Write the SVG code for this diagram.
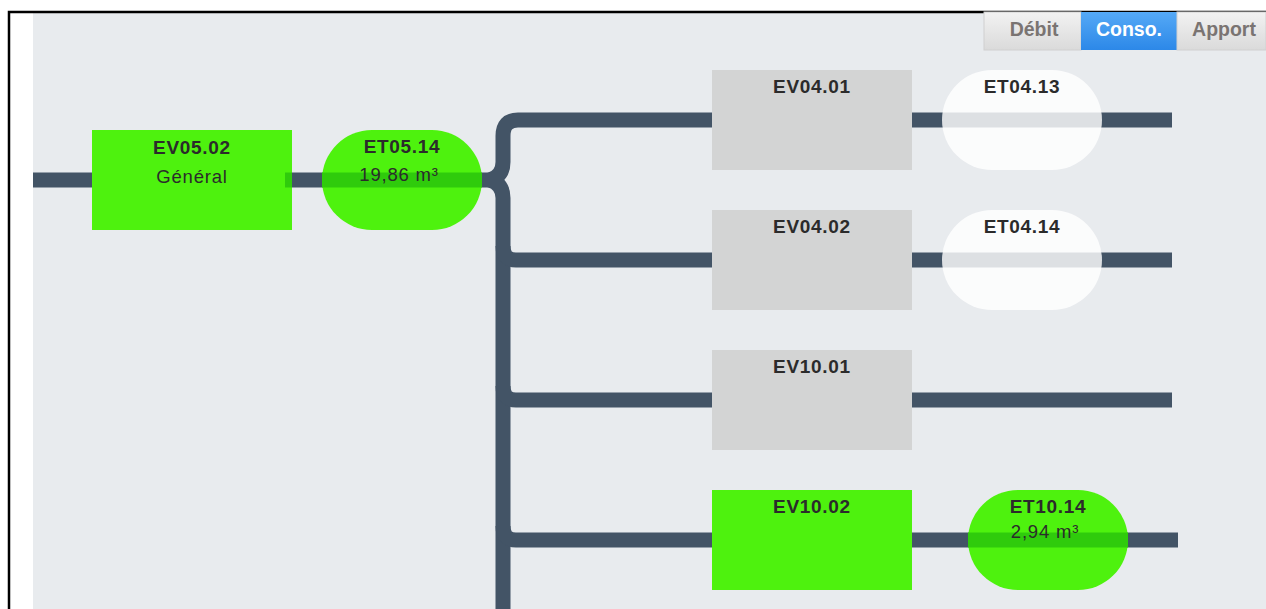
<svg xmlns="http://www.w3.org/2000/svg" width="1266" height="609" viewBox="0 0 1266 609">
  <defs>
    <linearGradient id="tabGray" x1="0" y1="0" x2="0" y2="1">
      <stop offset="0" stop-color="#F2F2F2"/>
      <stop offset="1" stop-color="#DADADA"/>
    </linearGradient>
    <linearGradient id="tabBlue" x1="0" y1="0" x2="0" y2="1">
      <stop offset="0" stop-color="#55A9F6"/>
      <stop offset="1" stop-color="#2C88E8"/>
    </linearGradient>
  </defs>
  <style>
    .pipe { fill: none; stroke: #435466; stroke-width: 15; stroke-linejoin: round; }
    .green { fill: #4EF20E; }
    .gray { fill: #D3D4D4; }
    .capsule-green { fill: #4EF20E; }
    .capsule-white { fill: #FFFFFF; fill-opacity: 0.82; }
    .under-green { fill: #2FCB0C; }
    .title { font-family: "Liberation Sans", Arial, sans-serif; font-size: 19px; font-weight: bold; fill: #2B2B2B; text-anchor: middle; letter-spacing: 0.7px; }
    .sub { font-family: "Liberation Sans", Arial, sans-serif; font-size: 18.5px; fill: #2B2B2B; text-anchor: middle; letter-spacing: 0.8px; }
    .tab { font-family: "Liberation Sans", Arial, sans-serif; font-size: 19.5px; font-weight: bold; text-anchor: middle; }
  </style>

  <!-- background and frame -->
  <rect x="0" y="0" width="1266" height="609" fill="#FFFFFF"/>
  <rect x="33" y="12" width="1233" height="597" fill="#E8EBEE"/>
  <path d="M 9 609 V 12 H 1266" fill="none" stroke="#000000" stroke-width="2.5"/>

  <!-- tabs -->
  <g id="tabs">
    <rect x="984" y="12" width="97" height="38" fill="url(#tabGray)" stroke="#D0D0D0" stroke-width="1"/>
    <text class="tab" x="1034" y="36" fill="#7A7472">Débit</text>
    <rect x="1081" y="12" width="96" height="38" fill="url(#tabBlue)"/>
    <text class="tab" x="1129" y="36" fill="#FFFFFF">Conso.</text>
    <rect x="1177" y="12" width="89" height="38" fill="url(#tabGray)" stroke="#D0D0D0" stroke-width="1"/>
    <text class="tab" x="1224" y="36" fill="#7A7472">Apport</text>
  </g>

  <!-- connectors -->
  <g id="connectors">
    <path class="pipe" d="M 33 180 H 92"/>
    <path class="pipe" d="M 285 180 H 490"/>
    <path class="pipe" d="M 712 120 H 518 Q 503 120 503 136 V 162 Q 503 176 490 180 Q 503 184 503 198 V 609"/>
    <path class="pipe" d="M 503 246 Q 503 260 516 260 H 712"/>
    <path class="pipe" d="M 503 386 Q 503 400 516 400 H 712"/>
    <path class="pipe" d="M 503 526 Q 503 540 516 540 H 712"/>
    <path class="pipe" d="M 912 120 H 1172"/>
    <path class="pipe" d="M 908 260 H 1172"/>
    <path class="pipe" d="M 912 400 H 1172"/>
    <path class="pipe" d="M 912 540 H 1178"/>
  </g>

  <!-- nodes -->
  <g id="EV05.02">
    <rect class="green" x="92" y="130" width="200" height="100"/>
    <rect class="under-green" x="285" y="172.5" width="7" height="15"/>
    <text class="title" x="192" y="154">EV05.02</text>
    <text class="sub" x="192" y="183">Général</text>
  </g>
  <g id="ET05.14">
    <rect class="capsule-green" x="322" y="130" width="160" height="100" rx="50" ry="50"/>
    <rect class="under-green" x="322" y="172.5" width="160" height="15"/>
    <text class="title" x="402" y="153">ET05.14</text>
    <text class="sub" x="399" y="181">19,86 m³</text>
  </g>
  <g id="EV04.01">
    <rect class="gray" x="712" y="70" width="200" height="100"/>
    <text class="title" x="812" y="93">EV04.01</text>
  </g>
  <g id="ET04.13">
    <rect class="capsule-white" x="942" y="70" width="160" height="100" rx="50" ry="50"/>
    <text class="title" x="1022" y="93">ET04.13</text>
  </g>
  <g id="EV04.02">
    <rect class="gray" x="712" y="210" width="200" height="100"/>
    <text class="title" x="812" y="233">EV04.02</text>
  </g>
  <g id="ET04.14">
    <rect class="capsule-white" x="942" y="210" width="160" height="100" rx="50" ry="50"/>
    <text class="title" x="1022" y="233">ET04.14</text>
  </g>
  <g id="EV10.01">
    <rect class="gray" x="712" y="350" width="200" height="100"/>
    <text class="title" x="812" y="373">EV10.01</text>
  </g>
  <g id="EV10.02">
    <rect class="green" x="712" y="490" width="200" height="100"/>
    <text class="title" x="812" y="513">EV10.02</text>
  </g>
  <g id="ET10.14">
    <rect class="capsule-green" x="968" y="490" width="160" height="100" rx="50" ry="50"/>
    <rect class="under-green" x="968" y="532.5" width="160" height="15"/>
    <text class="title" x="1048" y="513">ET10.14</text>
    <text class="sub" x="1045" y="538">2,94 m³</text>
  </g>
</svg>
